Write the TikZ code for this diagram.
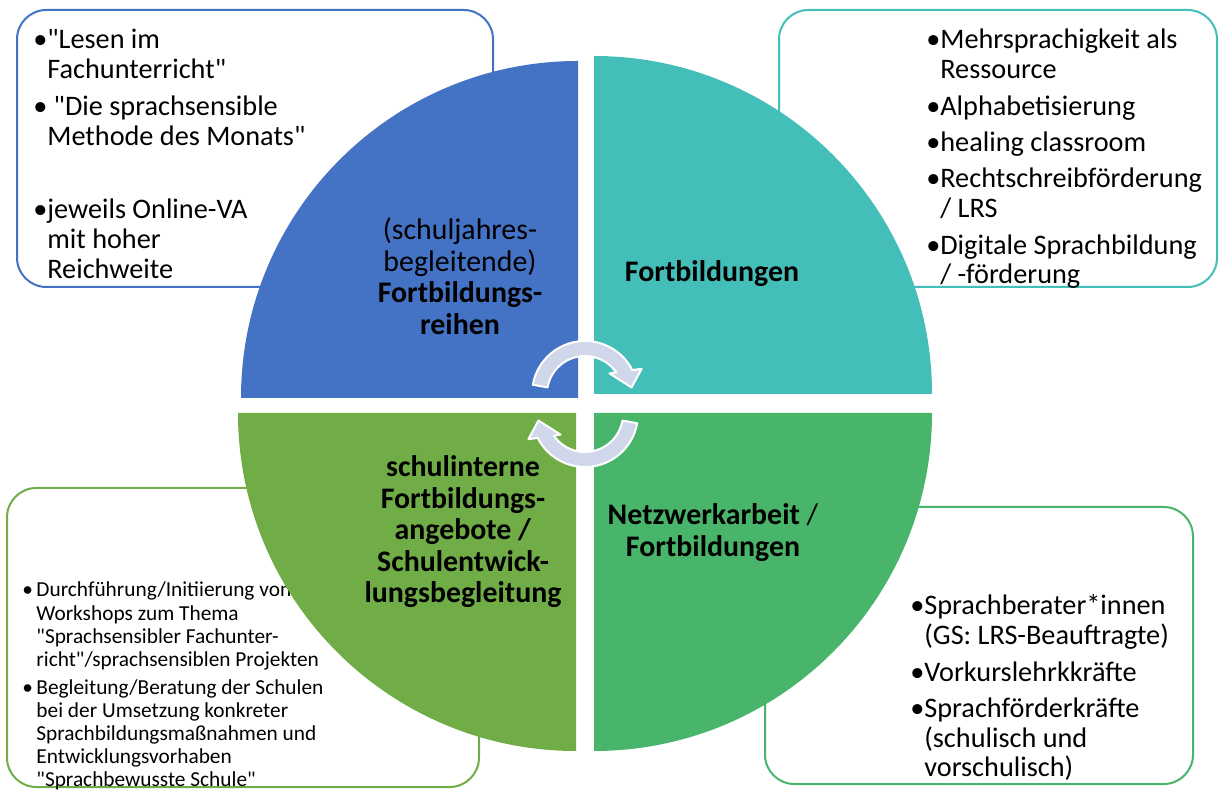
\documentclass[tikz,border=0pt]{standalone}
\usepackage{fontspec}
\setmainfont{Carlito}
\definecolor{cblue}{RGB}{68,114,196}
\definecolor{cteal}{RGB}{67,190,185}
\definecolor{colive}{RGB}{112,173,71}
\definecolor{cgreen}{RGB}{72,181,106}
\definecolor{turnfill}{RGB}{209,215,235}
\newcommand{\qt}{\textquotedbl{}}
\begin{document}
\begin{tikzpicture}[
		x=0.75pt, y=0.75pt,
		box/.style={draw, line width=1.5pt, rounded corners=22pt},
		boxtext/.style={anchor=base west, inner sep=0pt, font=\fontsize{21.2}{22.3}\selectfont},
		smalltext/.style={anchor=base west, inner sep=0pt, font=\fontsize{16}{17.3}\selectfont},
		quadtext/.style={anchor=base, inner sep=0pt, font=\fontsize{22.4}{23.6}\selectfont},
		turn/.style={fill=turnfill, draw=white, line width=1.5pt, line join=round}
	]
	\useasboundingbox (0,0) rectangle (1224,789);
	\draw[box, draw=cblue] (17,502) rectangle (493,779);
	\draw[box, draw=cteal] (779,502) rectangle (1217,779);
	\draw[box, draw=colive] (7,2) rectangle (479,301);
	\draw[box, draw=cgreen] (765,5) rectangle (1193,282);
	\node[boxtext] (lesen) at (33,740) {\begin{tabular}[t]{@{}l@{}l@{}}
			\textbullet&\qt Lesen im\\
			&Fachunterricht\qt\\[5.5pt]
			\textbullet&\ \qt Die sprachsensible\\
			&Methode des Monats\qt\\[32.5pt]
			\textbullet&jeweils Online-VA\\
			&mit hoher\\
			&Reichweite
		\end{tabular}};
	\node[boxtext] (mehrsprachig) at (926,740) {\begin{tabular}[t]{@{}l@{}l@{}}
			\textbullet&Mehrsprachigkeit als\\
			&Ressource\\[5pt]
			\textbullet&Alphabetisierung\\[5pt]
			\textbullet&healing classroom\\[5pt]
			\textbullet&Rechtschreibförderung\\
			&/ LRS\\[5pt]
			\textbullet&Digitale Sprachbildung\\
			&/ -förderung
		\end{tabular}};
	\node[smalltext] (workshops) at (22,192) {\begin{tabular}[t]{@{}l@{}l@{}}
			\textbullet\,&Durchführung/Initiierung von\\
			&Workshops zum Thema\\
			&\qt Sprachsensibler Fachunter-\\
			&richt\qt/sprachsensiblen Projekten\\[3.8pt]
			\textbullet\,&Begleitung/Beratung der Schulen\\
			&bei der Umsetzung konkreter\\
			&Sprachbildungsmaßnahmen und\\
			&Entwicklungsvorhaben\\
			&\qt Sprachbewusste Schule\qt
		\end{tabular}};
	\node[boxtext] (berater) at (910,174) {\begin{tabular}[t]{@{}l@{}l@{}}
			\textbullet&Sprachberater*innen\\
			&(GS: LRS-Beauftragte)\\[5pt]
			\textbullet&Vorkurslehrkkräfte\\[5pt]
			\textbullet&Sprachförderkräfte\\
			&(schulisch und\\
			&vorschulisch)
		\end{tabular}};
	\fill[cblue] (578,391) -- (241,391) arc[start angle=180, end angle=90, radius=337] -- cycle;
	\fill[cteal] (594,395) -- (594,733) arc[start angle=90, end angle=0, radius=338] -- cycle;
	\fill[colive] (576,376) -- (238,376) arc[start angle=180, end angle=270, radius=338] -- cycle;
	\fill[cgreen] (594,376) -- (594,38) arc[start angle=270, end angle=360, radius=338] -- cycle;
	\node[quadtext] (reihen) at (460,549) {\begin{tabular}[t]{@{}c@{}}
			(schuljahres-\\
			begleitende)\\
			\textbf{Fortbildungs-}\\
			\textbf{reihen}
		\end{tabular}};
	\node[quadtext] (fortbildungen) at (712,507) {\textbf{Fortbildungen}};
	\node[quadtext] (schulintern) at (463,312) {\begin{tabular}[t]{@{}c@{}}
			\textbf{schulinterne}\\
			\textbf{Fortbildungs-}\\
			\textbf{angebote /}\\
			\textbf{Schulentwick-}\\
			\textbf{lungsbegleitung}
		\end{tabular}};
	\node[quadtext] (netzwerk) at (713,264) {\begin{tabular}[t]{@{}c@{}}
			\textbf{Netzwerkarbeit} /\\
			\textbf{Fortbildungen}
		\end{tabular}};
	\begin{scope}[shift={(585,395)}]
		\draw[turn] (170:53) arc[start angle=170, end angle=26.8, radius=53] -- (24:62) -- (8:47) -- (40:32) -- (34.7:38) arc[start angle=34.7, end angle=170, radius=38] -- cycle;
	\end{scope}
	\begin{scope}[shift={(585,375)}, rotate=180]
		\draw[turn] (170:53) arc[start angle=170, end angle=26.8, radius=53] -- (24:62) -- (8:47) -- (40:32) -- (34.7:38) arc[start angle=34.7, end angle=170, radius=38] -- cycle;
	\end{scope}
\end{tikzpicture}
\end{document}
